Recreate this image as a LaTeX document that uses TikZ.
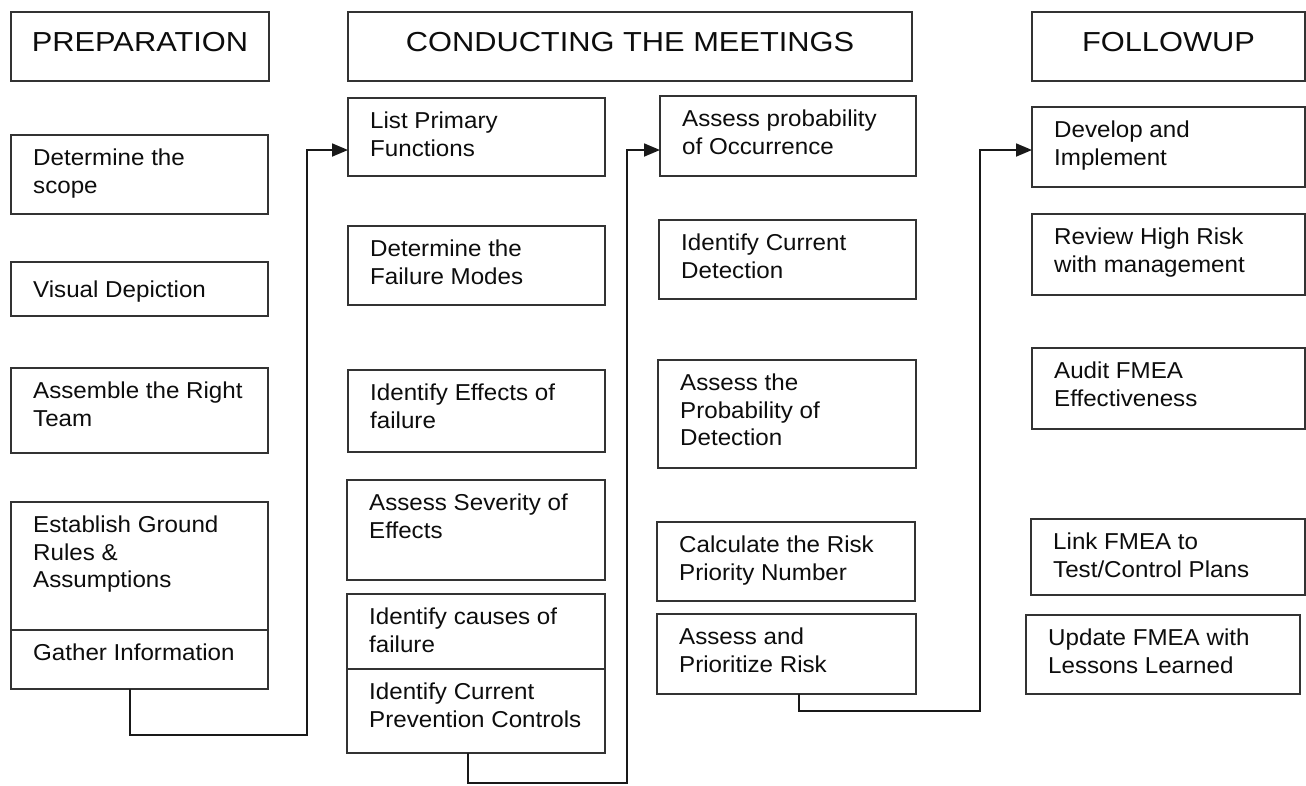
\documentclass[tikz,border=0pt]{standalone}
\usepackage{fontspec}
\setmainfont{Liberation Sans}[FakeStretch=1.05]
\newfontfamily\hdrfont{Liberation Sans}[FakeStretch=1.12]
\usetikzlibrary{arrows.meta}
\tikzset{
  boxst/.style={draw=black!80, line width=1.3pt, fill=white, inner sep=0pt, outer sep=0pt, anchor=north west},
  txt/.style={inner sep=0pt, align=left, text=black!95, font=\fontsize{23}{27.5}\selectfont},
  hdr/.style={inner sep=0pt, align=center, text=black!95, font=\hdrfont\fontsize{27.5}{32}\selectfont},
  conn/.style={draw=black!90, line width=1.8pt},
  arr/.style={-{Triangle[length=16pt,width=13pt]}}
}
\newcommand\fmbox[7][14]{%
  \node[boxst, minimum width={#5pt-#3pt}, minimum height={#6pt-#4pt}] (#2) at (#3,#4) {};
  \node[txt, anchor=north west] (#2-t) at ([xshift=22pt,yshift=-#1pt]#2.north west) {#7};
}
\newcommand\fmhead[6]{%
  \node[boxst, minimum width={#4pt-#2pt}, minimum height={#5pt-#3pt}] (#1) at (#2,#3) {};
  \node[hdr, anchor=north] (#1-t) at ([yshift=-20pt]#1.north) {#6};
}
\begin{document}
\begin{tikzpicture}[x=1pt,y=-1pt]
\useasboundingbox (0,0) rectangle (1306,785);
% headers
\fmhead{hprep}{11}{12}{269}{81}{PREPARATION}
\fmhead{hcond}{348}{12}{912}{81}{CONDUCTING THE MEETINGS}
\fmhead{hfoll}{1032}{12}{1305}{81}{FOLLOWUP}
% column 1
\fmbox{scope}{11}{135}{268}{214}{Determine the\\scope}
\fmbox[19]{visual}{11}{262}{268}{316}{Visual Depiction}
\fmbox{team}{11}{368}{268}{453}{Assemble the Right\\Team}
\fmbox{ground}{11}{502}{268}{630}{Establish Ground\\Rules \&\\Assumptions}
\fmbox{gather}{11}{630}{268}{689}{Gather Information}
% column 2
\fmbox{primary}{348}{98}{605}{176}{List Primary\\Functions}
\fmbox{modes}{348}{226}{605}{305}{Determine the\\Failure Modes}
\fmbox{effects}{348}{370}{605}{452}{Identify Effects of\\failure}
\fmbox{severity}{347}{480}{605}{580}{Assess Severity of\\Effects}
\fmbox{causes}{347}{594}{605}{669}{Identify causes of\\failure}
\fmbox{prevent}{347}{669}{605}{753}{Identify Current\\Prevention Controls}
% column 3
\fmbox{occur}{660}{96}{916}{176}{Assess probability\\of Occurrence}
\fmbox{detect}{659}{220}{916}{299}{Identify Current\\Detection}
\fmbox{probdet}{658}{360}{916}{468}{Assess the\\Probability of\\Detection}
\fmbox{rpn}{657}{522}{915}{601}{Calculate the Risk\\Priority Number}
\fmbox{prior}{657}{614}{916}{694}{Assess and\\Prioritize Risk}
% column 4
\fmbox{develop}{1032}{107}{1305}{187}{Develop and\\Implement}
\fmbox{review}{1032}{214}{1305}{295}{Review High Risk\\with management}
\fmbox{audit}{1032}{348}{1305}{429}{Audit FMEA\\Effectiveness}
\fmbox{link}{1031}{519}{1305}{595}{Link FMEA to\\Test/Control Plans}
\fmbox{update}{1026}{615}{1300}{694}{Update FMEA with\\Lessons Learned}
% connectors
\coordinate (s1) at (130,0);
\coordinate (j1) at (307,735);
\coordinate (a1) at (0,150);
\draw[conn, arr] (gather.south -| s1) |- (j1) |- (primary.west |- a1);
\coordinate (s2) at (468,0);
\coordinate (j2) at (627,783);
\draw[conn, arr] (prevent.south -| s2) |- (j2) |- (occur.west |- a1);
\coordinate (s3) at (799,0);
\coordinate (j3) at (980,711);
\draw[conn, arr] (prior.south -| s3) |- (j3) |- (develop.west |- a1);
\end{tikzpicture}
\end{document}
